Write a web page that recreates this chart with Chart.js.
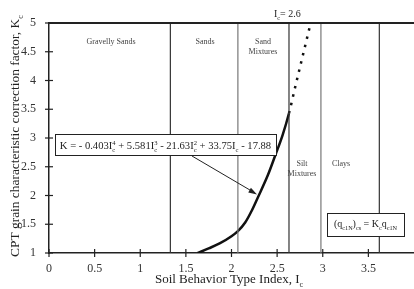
<!DOCTYPE html>
<html>
<head>
<meta charset="utf-8">
<script src="https://cdn.jsdelivr.net/npm/chart.js@4"></script>
<style>
  html, body { margin: 0; padding: 0; background: #fff; overflow: hidden; }
  #wrap { width: 414px; height: 289px; }
</style>
</head>
<body>
<div id="wrap"><canvas id="chart"></canvas></div>
<script>
// curve (solid up to Ic = 2.6, dotted beyond)
const curveIc = [1.63, 1.75, 1.875, 2.0, 2.07, 2.15, 2.22, 2.29, 2.4, 2.48, 2.56, 2.63, 2.7, 2.77, 2.86];
const curveK = [1.0, 1.08, 1.17, 1.29, 1.38, 1.53, 1.73, 1.97, 2.36, 2.7, 3.05, 3.43, 3.9, 4.36, 4.95];
// soil type boundaries
const boundaries = [1.33, 2.07, 2.63, 2.98, 3.62];
const boundaryColors = ['#333', '#777', '#333', '#777', '#333'];
const xTicks = [0, 0.5, 1, 1.5, 2, 2.5, 3, 3.5];
const yTicks = [1, 1.5, 2, 2.5, 3, 3.5, 4, 4.5, 5];

const SERIF = '"Liberation Serif", "DejaVu Serif", serif';

const curveData = curveIc.map((x, i) => ({ x: x, y: curveK[i] }));

const boundarySets = boundaries.map((b, i) => ({
  data: [{ x: b, y: 1 }, { x: b, y: 5 }],
  showLine: true,
  borderColor: boundaryColors[i],
  borderWidth: 1.2,
  pointRadius: 0
}));

// draws text with sub/superscripts
function richText(ctx, x, y, parts, size) {
  let cx = x;
  parts.forEach(p => {
    if (typeof p === 'string') {
      ctx.font = size + 'px ' + SERIF;
      ctx.fillText(p, cx, y);
      cx += ctx.measureText(p).width;
    } else {
      const s = size * 0.62;
      ctx.font = s + 'px ' + SERIF;
      let w = 0;
      if (p.sub) { ctx.fillText(p.sub, cx, y + size * 0.28); w = ctx.measureText(p.sub).width; }
      if (p.sup) { ctx.fillText(p.sup, cx, y - size * 0.4); w = Math.max(w, ctx.measureText(p.sup).width); }
      cx += w;
    }
  });
  return cx - x;
}

function measureRich(ctx, parts, size) {
  let w = 0;
  parts.forEach(p => {
    if (typeof p === 'string') {
      ctx.font = size + 'px ' + SERIF;
      w += ctx.measureText(p).width;
    } else {
      ctx.font = size * 0.62 + 'px ' + SERIF;
      w += Math.max(p.sub ? ctx.measureText(p.sub).width : 0, p.sup ? ctx.measureText(p.sup).width : 0);
    }
  });
  return w;
}

const decorations = {
  id: 'decorations',
  afterDraw(chart) {
    const ctx = chart.ctx;
    const xs = chart.scales.x, ys = chart.scales.y;
    const a = chart.chartArea;
    ctx.save();
    ctx.strokeStyle = '#222';
    ctx.fillStyle = '#222';

    // top border
    ctx.lineWidth = 2;
    ctx.beginPath();
    ctx.moveTo(a.left, a.top);
    ctx.lineTo(a.right, a.top);
    ctx.stroke();

    // axis ticks crossing the axes
    ctx.lineWidth = 1.2;
    xTicks.forEach(t => {
      const px = xs.getPixelForValue(t);
      ctx.beginPath(); ctx.moveTo(px, a.bottom - 4); ctx.lineTo(px, a.bottom + 4); ctx.stroke();
    });
    yTicks.forEach(t => {
      const py = ys.getPixelForValue(t);
      ctx.beginPath(); ctx.moveTo(a.left - 4, py); ctx.lineTo(a.left + 4, py); ctx.stroke();
    });

    // region labels
    ctx.fillStyle = '#444';
    ctx.font = '8px ' + SERIF;
    ctx.textAlign = 'center';
    ctx.textBaseline = 'middle';
    ctx.fillText('Gravelly Sands', 111, 42);
    ctx.fillText('Sands', 205, 42);
    ctx.fillText('Sand', 263, 42);
    ctx.fillText('Mixtures', 263, 52);
    ctx.fillText('Silt', 302, 164);
    ctx.fillText('Mixtures', 302, 174);
    ctx.fillText('Clays', 341, 164);

    // Ic = 2.6 label
    ctx.fillStyle = '#222';
    ctx.textAlign = 'left';
    ctx.textBaseline = 'alphabetic';
    richText(ctx, 274, 17, ['I', { sub: 'c' }, '= 2.6'], 10);

    // formula box
    const formula = ['K = - 0.403I', { sub: 'c', sup: '4' }, ' + 5.581I', { sub: 'c', sup: '3' },
      ' - 21.63I', { sub: 'c', sup: '2' }, ' + 33.75I', { sub: 'c' }, ' - 17.88'];
    ctx.fillStyle = '#fff';
    ctx.fillRect(55, 134, 221, 21);
    ctx.lineWidth = 1;
    ctx.strokeRect(55.5, 134.5, 221, 21);
    ctx.fillStyle = '#222';
    const fw = measureRich(ctx, formula, 10.6);
    richText(ctx, 55 + (221 - fw) / 2, 149, formula, 10.6);

    // arrow
    ctx.lineWidth = 1;
    ctx.beginPath();
    ctx.moveTo(192, 156);
    ctx.lineTo(255, 193);
    ctx.stroke();
    const ang = Math.atan2(193 - 156, 255 - 192);
    ctx.beginPath();
    ctx.moveTo(257, 194.5);
    ctx.lineTo(257 - 9 * Math.cos(ang - 0.3), 194.5 - 9 * Math.sin(ang - 0.3));
    ctx.lineTo(257 - 9 * Math.cos(ang + 0.3), 194.5 - 9 * Math.sin(ang + 0.3));
    ctx.closePath();
    ctx.fill();

    // (qc1N)cs box
    ctx.fillStyle = '#fff';
    ctx.fillRect(327, 213, 77, 23);
    ctx.strokeRect(327.5, 213.5, 77, 23);
    ctx.fillStyle = '#222';
    const qpart = ['(q', { sub: 'c1N' }, ')', { sub: 'cs' }, ' = K', { sub: 'c' }, 'q', { sub: 'c1N' }];
    const qw = measureRich(ctx, qpart, 10);
    richText(ctx, 327 + (77 - qw) / 2, 227, qpart, 10);

    // axis titles
    ctx.fillStyle = '#222';
    const xt = ['Soil Behavior Type Index, I', { sub: 'c' }];
    const xw = measureRich(ctx, xt, 13);
    richText(ctx, 229 - xw / 2, 283, xt, 13);

    ctx.save();
    ctx.translate(19, 136);
    ctx.rotate(-Math.PI / 2);
    const yt = ['CPT grain characteristic correction factor, K', { sub: 'c' }];
    const yw = measureRich(ctx, yt, 13.4);
    richText(ctx, -yw / 2, 0, yt, 13.4);
    ctx.restore();

    ctx.restore();
  }
};

new Chart(document.getElementById('chart'), {
  type: 'scatter',
  data: {
    datasets: [
      ...boundarySets,
      {
        data: curveData,
        showLine: true,
        borderColor: '#111',
        borderWidth: 2.5,
        pointRadius: 0,
        cubicInterpolationMode: 'monotone',
        segment: {
          borderDash: c => c.p0.parsed.x >= 2.62 ? [2.5, 6] : undefined
        }
      }
    ]
  },
  options: {
    responsive: true,
    maintainAspectRatio: false,
    animation: false,
    layout: { padding: { top: 23, right: 0, left: 0, bottom: 0 } },
    plugins: { legend: { display: false }, tooltip: { enabled: false } },
    scales: {
      x: {
        type: 'linear',
        min: 0,
        max: 4,
        afterFit: s => { s.height = 36; },
        afterBuildTicks: s => { s.ticks = xTicks.map(v => ({ value: v })); },
        grid: { display: false },
        border: { display: true, color: '#222', width: 1.5 },
        ticks: { color: '#333', font: { family: SERIF, size: 12 }, padding: 1, maxRotation: 0,
          callback: v => String(v) }
      },
      y: {
        type: 'linear',
        min: 1,
        max: 5,
        afterFit: s => { s.width = 49; },
        afterBuildTicks: s => { s.ticks = yTicks.map(v => ({ value: v })); },
        grid: { display: false },
        border: { display: true, color: '#222', width: 1.5 },
        ticks: { color: '#333', font: { family: SERIF, size: 12 }, padding: 5,
          callback: v => String(v) }
      }
    }
  },
  plugins: [decorations]
});
</script>
</body>
</html>
